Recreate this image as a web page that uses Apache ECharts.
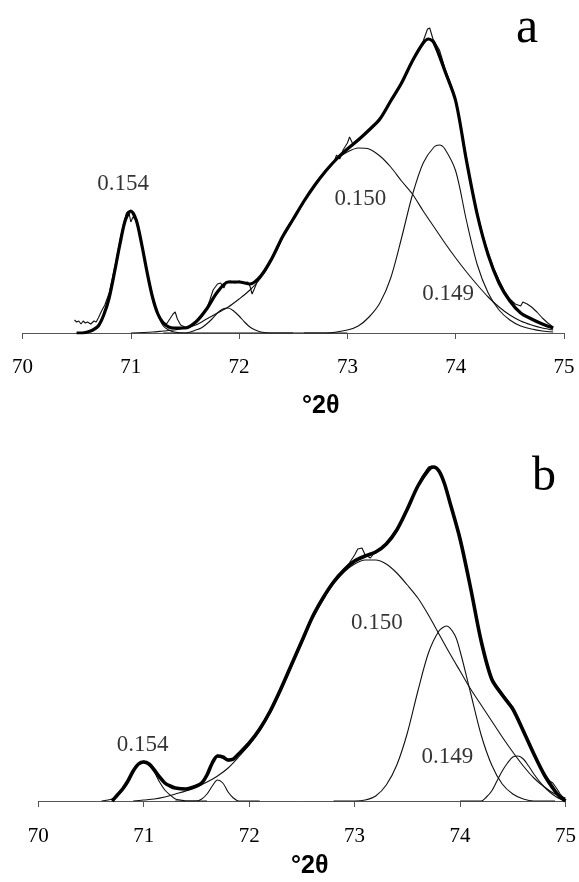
<!DOCTYPE html>
<html>
<head>
<meta charset="utf-8">
<script src="https://cdn.jsdelivr.net/npm/echarts@6/dist/echarts.min.js"></script>
<style>
  html, body { margin: 0; padding: 0; background: #fff; }
  #chart { width: 579px; height: 882px; }
</style>
</head>
<body>
<div id="chart"></div>
<script>
// x ticks (°2θ)
const xTicks = [70, 71, 72, 73, 74, 75];

// ---- panel a : [2θ, intensity] ----
const aRaw = [[70.48,13],[70.5,11],[70.52,12],[70.54,9],[70.56,12],[70.58,10],[70.6,11],[70.63,9],[70.66,12],[70.68,11],[70.7,15],[70.73,22],[70.76,28],[70.8,40],[70.83,55],[70.86,70],[70.9,93],[70.93,108],[70.96,120],[70.98,122],[71.0,111],[71.02,116],[71.05,113],[71.08,101],[71.1,91],[71.13,73],[71.16,57],[71.2,38],[71.23,26],[71.26,17],[71.3,11],[71.33,9],[71.36,14],[71.39,19],[71.41,21],[71.43,14],[71.46,8],[71.5,6],[71.53,5],[71.56,7],[71.6,10],[71.63,14],[71.66,17],[71.7,24],[71.73,33],[71.76,43],[71.8,49],[71.83,50],[71.86,45],[71.88,51],[71.92,52],[71.96,50],[72.0,52],[72.04,50],[72.08,51],[72.1,47],[72.12,39],[72.14,44],[72.17,52],[72.2,58],[72.25,65],[72.3,74],[72.35,83],[72.4,95],[72.45,104],[72.5,115],[72.55,122],[72.6,131],[72.65,141],[72.7,148],[72.75,155],[72.8,163],[72.85,167],[72.88,172],[72.9,178],[72.93,174],[72.96,183],[73.0,190],[73.02,196],[73.05,189],[73.1,194],[73.15,198],[73.2,203],[73.25,208],[73.3,215],[73.35,222],[73.4,233],[73.45,241],[73.5,251],[73.55,261],[73.6,272],[73.65,282],[73.7,292],[73.74,304],[73.76,305],[73.79,294],[73.85,283],[73.9,265],[73.95,250],[74.0,233],[74.05,205],[74.1,175],[74.15,145],[74.2,120],[74.25,98],[74.3,80],[74.35,65],[74.4,53],[74.45,42],[74.5,34],[74.55,29],[74.6,27],[74.62,31],[74.64,30],[74.66,29],[74.7,26],[74.75,21],[74.8,15],[74.85,10],[74.9,6]];
const aFit = [[70.5,0],[70.55,0],[70.6,1],[70.65,3],[70.7,7],[70.75,18],[70.8,35],[70.85,61],[70.9,89],[70.95,113],[71.0,122],[71.05,113],[71.1,89],[71.15,61],[71.2,36],[71.25,19],[71.3,10],[71.35,6],[71.4,5],[71.5,5],[71.6,11],[71.7,24],[71.8,41],[71.9,51],[72.0,51],[72.1,49],[72.2,57],[72.3,74],[72.4,96],[72.5,114],[72.6,132],[72.7,148],[72.8,162],[72.9,174],[73.0,184],[73.1,193],[73.2,203],[73.3,214],[73.4,232],[73.5,250],[73.6,272],[73.7,290],[73.75,294],[73.8,290],[73.9,262],[74.0,232],[74.1,172],[74.2,118],[74.3,78],[74.4,50],[74.5,32],[74.6,20],[74.7,14],[74.8,9],[74.9,5]];
const aPeak154 = [[70.5,0],[70.6,1],[70.65,3],[70.7,7],[70.75,18],[70.8,35],[70.85,61],[70.9,89],[70.95,113],[71.0,122],[71.05,113],[71.1,89],[71.15,61],[71.2,35],[71.25,18],[71.3,7],[71.35,3],[71.4,1],[71.5,0],[72.5,0]];
const aPeakSmall = [[71.3,0],[71.5,0],[71.55,1],[71.6,3],[71.65,5],[71.7,9],[71.75,14],[71.8,20],[71.85,24],[71.9,25],[71.95,22],[72.0,17],[72.05,11],[72.1,6],[72.15,3],[72.2,1],[72.3,0],[73.0,0]];
const aPeak150 = [[71.0,0],[71.2,1],[71.3,2],[71.4,3],[71.5,5],[71.6,8],[71.7,14],[71.8,20],[71.9,26],[72.0,34],[72.1,43],[72.2,55],[72.3,73],[72.4,95],[72.5,114],[72.6,132],[72.7,148],[72.8,162],[72.9,174],[73.0,181],[73.1,185],[73.2,184],[73.3,177],[73.4,166],[73.5,152],[73.6,139],[73.7,122],[73.8,106],[73.9,90],[74.0,75],[74.1,61],[74.2,48],[74.3,36],[74.4,26],[74.5,18],[74.6,12],[74.7,8],[74.8,5],[74.9,3]];
const aPeak149 = [[72.6,0],[72.8,0],[73.0,3],[73.1,7],[73.2,16],[73.3,30],[73.4,55],[73.5,95],[73.6,138],[73.7,170],[73.8,186],[73.85,188],[73.9,184],[74.0,162],[74.1,112],[74.2,68],[74.3,40],[74.4,23],[74.5,13],[74.6,7],[74.7,4],[74.8,2],[74.9,1]];
const aLabels = [["0.154", 70.93, 149], ["0.150", 73.12, 134], ["0.149", 73.93, 39]];

// ---- panel b ----
const bRaw = [[70.7,1],[70.75,6],[70.8,12],[70.85,21],[70.9,31],[70.95,37],[71.0,40],[71.05,37],[71.1,31],[71.15,24],[71.2,18],[71.25,15],[71.3,13],[71.4,12],[71.5,14],[71.55,18],[71.6,27],[71.65,39],[71.7,46],[71.75,43],[71.8,40],[71.85,41],[71.9,46],[72.0,58],[72.1,73],[72.15,82],[72.2,88],[72.25,100],[72.3,113],[72.35,122],[72.4,135],[72.45,148],[72.5,161],[72.6,185],[72.7,204],[72.8,218],[72.9,232],[72.95,238],[73.0,246],[73.03,252],[73.07,253],[73.1,246],[73.15,243],[73.2,250],[73.25,252],[73.3,256],[73.4,271],[73.5,293],[73.6,316],[73.65,326],[73.7,334],[73.73,335],[73.77,333],[73.8,330],[73.85,318],[73.9,301],[74.0,265],[74.1,214],[74.2,160],[74.3,122],[74.4,108],[74.5,94],[74.6,72],[74.7,48],[74.8,27],[74.85,20],[74.88,18],[74.92,12],[74.95,7],[75.0,1]];
const bFit = [[70.7,0],[70.75,6],[70.8,12],[70.85,20],[70.9,30],[70.95,37],[71.0,39],[71.05,37],[71.1,31],[71.15,24],[71.2,18],[71.25,15],[71.3,13],[71.4,12],[71.5,15],[71.55,18],[71.6,26],[71.65,38],[71.7,45],[71.75,44],[71.8,41],[71.85,42],[71.9,47],[72.0,58],[72.1,72],[72.2,90],[72.3,112],[72.4,136],[72.5,160],[72.6,184],[72.7,203],[72.8,219],[72.9,231],[73.0,240],[73.1,245],[73.2,249],[73.3,257],[73.4,271],[73.5,292],[73.6,315],[73.7,331],[73.75,334],[73.8,330],[73.85,318],[73.9,300],[74.0,262],[74.1,213],[74.2,160],[74.3,122],[74.4,106],[74.5,92],[74.6,70],[74.7,47],[74.8,26],[74.9,10],[74.95,4],[75.0,0]];
const bPeak154 = [[70.6,0],[70.7,2],[70.75,5],[70.8,11],[70.85,19],[70.9,29],[70.95,36],[71.0,39],[71.05,36],[71.1,29],[71.15,19],[71.2,11],[71.25,6],[71.3,2],[71.35,1],[71.4,0],[71.6,0]];
const bPeakSmall = [[71.3,0],[71.5,0],[71.55,2],[71.6,7],[71.65,15],[71.7,21],[71.75,18],[71.8,9],[71.85,3],[71.9,0],[72.1,0]];
const bPeak150 = [[70.9,0],[71.0,1],[71.1,2],[71.2,4],[71.3,7],[71.4,10],[71.5,14],[71.6,19],[71.7,25],[71.8,33],[71.9,44],[72.0,56],[72.1,70],[72.2,88],[72.3,110],[72.4,134],[72.5,158],[72.6,182],[72.7,201],[72.8,217],[72.9,229],[73.0,237],[73.1,241],[73.2,241],[73.3,237],[73.4,228],[73.5,216],[73.6,203],[73.7,186],[73.8,167],[73.9,148],[74.0,130],[74.1,112],[74.2,96],[74.3,80],[74.4,64],[74.5,49],[74.6,35],[74.7,23],[74.8,14],[74.9,7],[75.0,3]];
const bPeak149 = [[72.8,0],[73.0,0],[73.1,1],[73.2,5],[73.3,16],[73.4,36],[73.5,68],[73.6,110],[73.7,148],[73.8,170],[73.87,175],[73.95,166],[74.0,150],[74.1,108],[74.2,66],[74.3,36],[74.4,17],[74.5,7],[74.6,2],[74.7,0],[74.9,0]];
const bPeakHigh = [[74.0,0],[74.2,0],[74.25,4],[74.3,10],[74.35,20],[74.4,30],[74.45,38],[74.5,44],[74.55,45],[74.6,42],[74.65,35],[74.7,27],[74.75,20],[74.8,14],[74.85,9],[74.9,5],[74.95,2],[75.0,0]];
const bLabels = [["0.154", 70.99, 56], ["0.150", 73.21, 178], ["0.149", 73.88, 44]];

const serif = "Liberation Serif";
const sans = "Liberation Sans";
const ink = "#000";

const xAxisOf = (gridIndex, margin) => ({
  type: "value",
  gridIndex,
  min: 70,
  max: 75,
  interval: 1,
  axisLine: { show: true, onZero: false, lineStyle: { color: "#555", width: 1 } },
  axisTick: { show: true, length: 6, lineStyle: { color: "#555" } },
  splitLine: { show: false },
  axisLabel: {
    margin,
    color: ink,
    fontFamily: serif,
    fontSize: 21,
    formatter: (v) => (xTicks.includes(v) ? String(v) : "")
  }
});

const yAxisOf = (gridIndex, max) => ({ type: "value", gridIndex, min: 0, max, show: false });

const thin = (name, data, idx) => ({
  name,
  type: "line",
  xAxisIndex: idx,
  yAxisIndex: idx,
  data,
  smooth: 0.3,
  showSymbol: false,
  silent: true,
  lineStyle: { color: "#111", width: 1.1 }
});

const raw = (data, idx) => ({
  name: "raw",
  type: "line",
  xAxisIndex: idx,
  yAxisIndex: idx,
  data,
  showSymbol: false,
  silent: true,
  lineStyle: { color: "#111", width: 1.1 }
});

const fit = (data, idx, width) => ({
  name: "fit",
  type: "line",
  xAxisIndex: idx,
  yAxisIndex: idx,
  data,
  smooth: 0.3,
  showSymbol: false,
  silent: true,
  z: 5,
  lineStyle: { color: "#000", width }
});

// peak d-spacing labels, anchored in data coordinates
const labelsSeries = (labels, idx) => ({
  type: "scatter",
  xAxisIndex: idx,
  yAxisIndex: idx,
  symbolSize: 0,
  silent: true,
  data: labels.map((l) => ({ value: [l[1], l[2]], name: l[0] })),
  label: {
    show: true,
    position: "inside",
    formatter: (p) => p.name,
    color: ink,
    fontFamily: serif,
    fontSize: 23
  }
});

const textEl = (text, left, top, size, family, weight) => ({
  type: "text",
  left,
  top,
  style: { text, fontSize: size, fontFamily: family, fontWeight: weight, fill: ink }
});

const option = {
  animation: false,
  backgroundColor: "#fff",
  grid: [
    { left: 22.5, top: 13, width: 541.5, height: 320 },
    { left: 38.3, top: 461, width: 530, height: 340 }
  ],
  xAxis: [xAxisOf(0, 24), xAxisOf(1, 25)],
  yAxis: [yAxisOf(0, 320), yAxisOf(1, 340)],
  series: [
    thin("0.154", aPeak154, 0),
    thin("small", aPeakSmall, 0),
    thin("0.150", aPeak150, 0),
    thin("0.149", aPeak149, 0),
    raw(aRaw, 0),
    fit(aFit, 0, 3.2),
    labelsSeries(aLabels, 0),
    thin("0.154", bPeak154, 1),
    thin("small", bPeakSmall, 1),
    thin("0.150", bPeak150, 1),
    thin("0.149", bPeak149, 1),
    thin("high", bPeakHigh, 1),
    raw(bRaw, 1),
    fit(bFit, 1, 3.6),
    labelsSeries(bLabels, 1)
  ],
  graphic: [
    textEl("a", 516, 4, 50, serif, "normal"),
    textEl("b", 532, 453, 48, serif, "normal"),
    textEl("°2θ", 302, 394, 25, sans, "bold"),
    textEl("°2θ", 291, 854, 25, sans, "bold")
  ]
};

const myChart = echarts.init(document.getElementById("chart"), null, { renderer: "canvas" });
myChart.setOption(option);
</script>
</body>
</html>
